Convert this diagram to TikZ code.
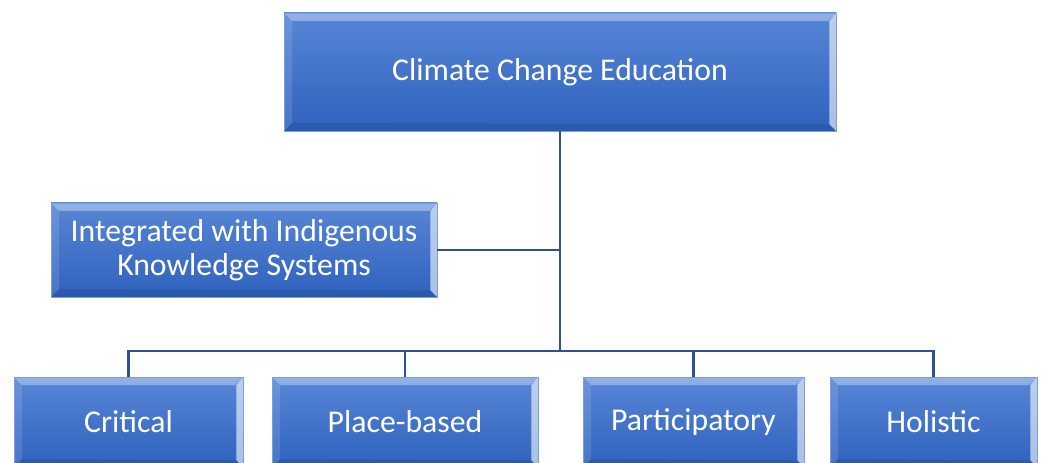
\documentclass[tikz,border=0pt]{standalone}
\usepackage{fontspec}
\setmainfont{Carlito}
\definecolor{boxtop}{RGB}{88,134,214}
\definecolor{boxbot}{RGB}{47,98,190}
\definecolor{boxedge}{RGB}{120,160,225}
\definecolor{linkblue}{RGB}{47,82,143}
\begin{document}
\begin{tikzpicture}[x=0.75pt,y=-0.75pt,
	catbox/.style={rectangle, top color=boxtop, bottom color=boxbot, draw=boxedge, line width=0.6pt,
		text=white, align=center, inner sep=0pt, font=\fontsize{23.8}{25.5}\selectfont,
		path picture={
			\fill[white, opacity=0.35] (path picture bounding box.north west) -- (path picture bounding box.north east)
				-- ([shift={(-6pt,-6pt)}]path picture bounding box.north east) -- ([shift={(6pt,-6pt)}]path picture bounding box.north west) -- cycle;
			\fill[white, opacity=0.12] (path picture bounding box.north west) -- ([shift={(6pt,-6pt)}]path picture bounding box.north west)
				-- ([shift={(6pt,6pt)}]path picture bounding box.south west) -- (path picture bounding box.south west) -- cycle;
			\fill[white, opacity=0.6] (path picture bounding box.north east) -- (path picture bounding box.south east)
				-- ([shift={(-5pt,5pt)}]path picture bounding box.south east) -- ([shift={(-5pt,-6pt)}]path picture bounding box.north east) -- cycle;
			\fill[black, opacity=0.1] (path picture bounding box.south west) -- (path picture bounding box.south east)
				-- ([shift={(-5pt,5pt)}]path picture bounding box.south east) -- ([shift={(6pt,6pt)}]path picture bounding box.south west) -- cycle;
		}},
	link/.style={draw=linkblue, line width=2.2pt}]
	\useasboundingbox (0,0) rectangle (1041,463);
	\clip (0,0) rectangle (1041,463);
	\node (cce) at (560, 72)	[catbox, minimum width=414pt, minimum height=88.5pt]	{Climate Change Education};
	\node (iks) at (244,250)	[catbox, minimum width=289.5pt, minimum height=70.5pt]	{Integrated with Indigenous\\Knowledge Systems};
	\node (crit) at (128.5,422)	[catbox, minimum width=171.75pt, minimum height=67.5pt]	{Critical};
	\node (place) at (405,422)	[catbox, minimum width=199.5pt, minimum height=67.5pt]	{Place-based};
	\node (part) at (693.5,422)	[catbox, minimum width=165.75pt, minimum height=67.5pt]	{Participatory};
	\node (hol) at (933.5,422)	[catbox, minimum width=155.25pt, minimum height=67.5pt]	{Holistic};
	\coordinate (bus) at (560,351);
	\draw[link] (cce) -- (bus);
	\draw[link] (iks.east) -- (iks.east -| bus);
	\draw[link] (crit.north) |- (bus);
	\draw[link] (place.north) |- (bus);
	\draw[link] (part.north) |- (bus);
	\draw[link] (hol.north) |- (bus);
\end{tikzpicture}
\end{document}
